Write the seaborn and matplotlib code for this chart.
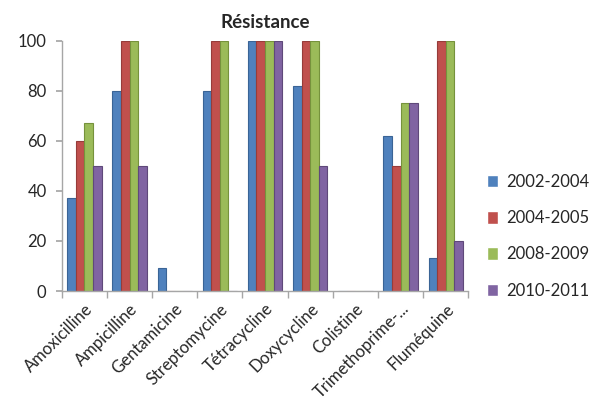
import numpy as np
import pandas as pd
import matplotlib
matplotlib.use("Agg")
import matplotlib.pyplot as plt
import seaborn as sns

# Antibiotic resistance rates (%) by period
antibiotics = ["Amoxicilline", "Ampicilline", "Gentamicine", "Streptomycine",
               "Tétracycline", "Doxycycline", "Colistine", "Trimethoprime-...",
               "Fluméquine"]
periods = ["2002-2004", "2004-2005", "2008-2009", "2010-2011"]
r_2002_2004 = [37, 80, 9, 80, 100, 82, 0, 62, 13]
r_2004_2005 = [60, 100, 0, 100, 100, 100, 0, 50, 100]
r_2008_2009 = [67, 100, 0, 100, 100, 100, 0, 75, 100]
r_2010_2011 = [50, 50, 0, 0, 100, 50, 0, 75, 20]
colors = ["#4F81BD", "#C0504D", "#9BBB59", "#8064A2"]
edges = ["#3A6496", "#963C3A", "#76923C", "#5F497A"]

series = [r_2002_2004, r_2004_2005, r_2008_2009, r_2010_2011]
df = pd.DataFrame({
    "antibiotic": np.tile(antibiotics, len(periods)),
    "period": np.repeat(periods, len(antibiotics)),
    "value": np.concatenate(series),
})

sns.set_theme(style="white")
plt.rcParams["font.family"] = ["Lato", "DejaVu Sans"]

fig = plt.figure(figsize=(5.95, 4.07), dpi=100)
ax = fig.add_axes([0.104, 0.285, 0.683, 0.615])

sns.barplot(data=df, x="antibiotic", y="value", hue="period",
            hue_order=periods, order=antibiotics, palette=colors,
            width=0.76, gap=0.0, legend=True, ax=ax, saturation=1)

for container, ec in zip(ax.containers, edges):
    for patch in container:
        patch.set_edgecolor(ec)
        patch.set_linewidth(0.8)

ax.set_ylim(0, 100)
ax.set_xlim(-0.5, len(antibiotics) - 0.5)
ax.set_yticks(range(0, 101, 20))
ax.set_xlabel("")
ax.set_ylabel("")
ax.set_title("Résistance", fontsize=13.5, fontweight="bold", pad=9)

for side in ["top", "right"]:
    ax.spines[side].set_visible(False)
for side in ["left", "bottom"]:
    ax.spines[side].set_color("#A6A6A6")
    ax.spines[side].set_linewidth(1.0)

ax.tick_params(axis="y", length=4, color="#A6A6A6", labelsize=12, left=True,
               pad=7)
ax.set_xticks(range(len(antibiotics)))
ax.set_xticklabels(antibiotics, rotation=45, ha="right",
                   rotation_mode="anchor", fontsize=12)
ax.tick_params(axis="x", which="major", length=0, pad=7)
ax.set_xticks(np.arange(-0.5, len(antibiotics)), minor=True)
ax.tick_params(axis="x", which="minor", length=5, color="#A6A6A6", bottom=True)

handles, labels = ax.get_legend_handles_labels()
ax.legend(handles, labels, loc="upper left", bbox_to_anchor=(1.03, 0.495),
          frameon=False, fontsize=12, handlelength=0.65, handleheight=0.8,
          handletextpad=0.5, labelspacing=1.22, borderaxespad=0)

fig.savefig("out.png", dpi=100)
